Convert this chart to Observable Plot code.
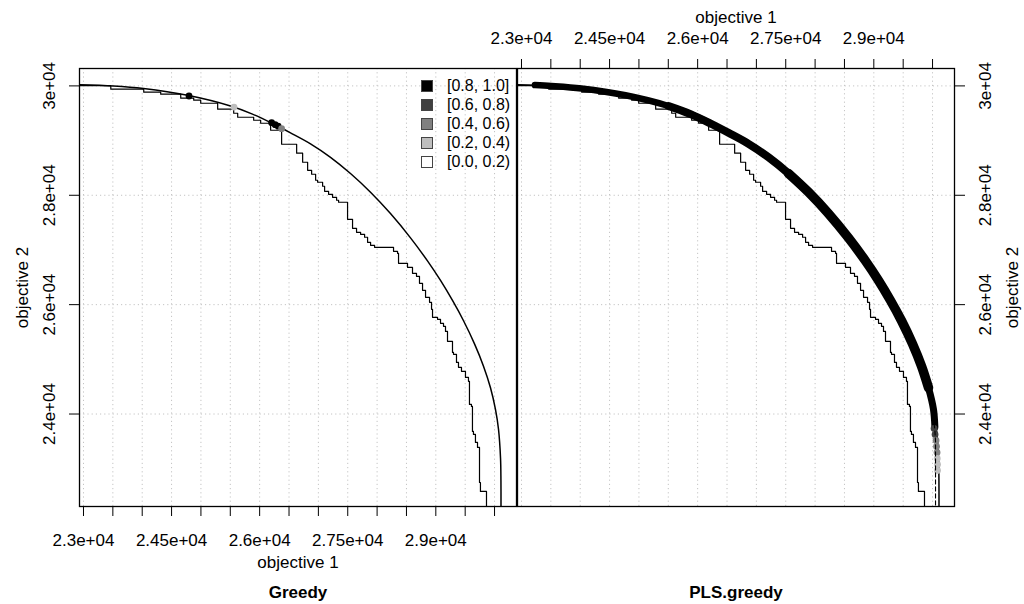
<!DOCTYPE html>
<html><head><meta charset="utf-8">
<script src="https://cdn.jsdelivr.net/npm/d3@7"></script>
<script src="https://cdn.jsdelivr.net/npm/@observablehq/plot@0.6"></script>
<style>
html,body{margin:0;padding:0;background:#fff;}
#wrap{position:relative;width:1024px;height:604px;overflow:hidden;font-family:"Liberation Sans",Arial,Helvetica,sans-serif;}
#wrap svg{position:absolute;top:0;}
.legend{position:absolute;left:421px;top:76px;font-size:16px;color:#000;}
.legend .row{display:flex;align-items:center;height:19px;}
.legend .sw{width:10px;height:10px;border:1px solid #444;box-sizing:content-box;margin-right:14px;}
</style></head><body><div id="wrap"></div>
<script>
// ---- axes / ticks ----
const xTicks = [23000,23500,24000,24500,25000,25500,26000,26500,27000,27500,28000,28500,29000,29500,30000];
const xLabelTicks = [23000,24500,26000,27500,29000];
const xTickLabels = ["2.3e+04","2.45e+04","2.6e+04","2.75e+04","2.9e+04"];
const yTicks = [24000,26000,28000,30000];
const yTickLabels = ["2.4e+04","2.6e+04","2.8e+04","3e+04"];
const xDomain = [22932, 30374];
const yDomain = [22309, 30318];

// ---- legend levels ----
const levels = ["[0.8, 1.0]","[0.6, 0.8)","[0.4, 0.6)","[0.2, 0.4)","[0.0, 0.2)"];
const levelColors = ["#000000","#404040","#808080","#bebebe","#ffffff"];

// ---- grand-best attainment surface ----
const bestX = [22932,23511,24022,24771,25504,25878,26236,26525,26866,27207,27547,27888,28228,28569,28858,29080,29284,29472,29659,29812,29931,30016,30068,30102,30109,30110];
const bestY = [30020,29998,29952,29828,29632,29484,29303,29142,28941,28694,28398,28056,27665,27221,26800,26442,26076,25705,25282,24875,24481,24085,23717,23194,22785,22309];

// ---- grand-worst attainment surface (corner points) ----
const worstX = [22932,23465,24026,24315,24656,24877,24996,25285,25558,25626,25898,26017,26187,26374,26630,26732,26817,26885,26953,26987,27072,27106,27174,27242,27310,27344,27497,27582,27650,27719,27787,27838,27889,27957,28280,28348,28365,28518,28603,28671,28722,28774,28825,28893,28927,28944,29029,29080,29131,29165,29199,29284,29301,29352,29386,29437,29505,29556,29573,29607,29624,29641,29675,29710,29744,29760,29863,29863];
const worstY = [30022,30004,29940,29885,29848,29775,29738,29683,29574,29500,29427,29372,29317,29189,28933,28769,28604,28457,28384,28275,28238,28165,28073,28018,27963,27909,27872,27561,27396,27323,27286,27232,27140,27085,27049,26975,26939,26756,26683,26573,26518,26390,26262,26134,26042,25914,25768,25731,25658,25603,25511,25329,25127,25091,24944,24853,24780,24670,24597,24176,24139,23682,23627,23480,23389,22748,22584,22309];

// ---- Greedy better: difference points ----
const greedyDiffX = [24797,25563,26204,26264,26315,26374];
const greedyDiffY = [29815,29612,29327,29290,29263,29217];
const greedyDiffLevel = ["[0.8, 1.0]","[0.2, 0.4)","[0.8, 1.0]","[0.8, 1.0]","[0.8, 1.0]","[0.4, 0.6)"];

// ---- PLS.greedy better: difference band (level [0.8, 1.0]) ----
const plsBandAX = [23228,23511,24022,24771,25504,25878,26236];
const plsBandAY = [30015,29998,29952,29828,29632,29484,29303];
const plsBandBX = [25504,25878,26236,26525,26866,27207,27547,27888];
const plsBandBY = [29632,29484,29303,29142,28941,28694,28398,28056];
const plsBandCX = [27547,27888,28228,28569,28858,29080,29284,29472,29659,29812,29931];
const plsBandCY = [28398,28056,27665,27221,26800,26442,26076,25705,25282,24875,24481];
const plsBandDX = [29812,29931,30016,30040];
const plsBandDY = [24875,24481,24085,23760];
// lower-probability tail
const plsTailX = [30026,30043,30060,30068,30077,30080,30085,30085];
const plsTailY = [23737,23627,23517,23407,23298,23188,23078,22968];
const plsTailLevel = ["[0.6, 0.8)","[0.6, 0.8)","[0.4, 0.6)","[0.4, 0.6)","[0.4, 0.6)","[0.2, 0.4)","[0.2, 0.4)","[0.2, 0.4)"];
// median surface (dashed)
const plsMedX = [29990,30040,30051,30051];
const plsMedY = [24200,23700,23500,22309];

// ---- helpers ----
const pts = (X, Y, L) => X.map((x, i) => ({x, y: Y[i], level: L ? L[i] : null}));
const xFmt = d => { const i = xLabelTicks.indexOf(d); return i >= 0 ? xTickLabels[i] : ""; };
const yFmt = d => { const i = yTicks.indexOf(d); return i >= 0 ? yTickLabels[i] : ""; };
const FONT = "'Liberation Sans', Arial, Helvetica, sans-serif";
const gridStyle = {stroke: "#c4c4c4", strokeOpacity: 1, strokeDasharray: "1.2,3"};
const common = {
  height: 604,
  x: {domain: xDomain},
  y: {domain: yDomain},
  color: {domain: levels, range: levelColors},
  style: {fontFamily: FONT, fontSize: "17px", background: "transparent", color: "black", overflow: "visible"}
};
const bandStyle = {x: "x", y: "y", curve: "catmull-rom", stroke: levelColors[0], strokeLinecap: "round", strokeLinejoin: "round", clip: true};

const best = pts(bestX, bestY);
const worst = pts(worstX, worstY);

// ---- left panel: Greedy ----
const left = Plot.plot({
  ...common,
  width: 517,
  marginLeft: 79, marginRight: 1, marginTop: 68, marginBottom: 98,
  marks: [
    Plot.gridX({ticks: xTicks, ...gridStyle}),
    Plot.gridY({ticks: yTicks, ...gridStyle}),
    Plot.line(worst, {x: "x", y: "y", curve: "step-before", stroke: "black", strokeWidth: 1.2, clip: true}),
    Plot.line(best, {x: "x", y: "y", curve: "catmull-rom", stroke: "black", strokeWidth: 1.5, clip: true}),
    Plot.dot(pts(greedyDiffX, greedyDiffY, greedyDiffLevel), {x: "x", y: "y", fill: "level", r: 3.4, clip: true}),
    Plot.frame({stroke: "black", strokeWidth: 1.3}),
    Plot.axisX({ticks: xTicks, anchor: "bottom", tickSize: 10, tickPadding: 17, tickFormat: xFmt, label: null}),
    Plot.axisY({ticks: yTicks, anchor: "left", tickSize: 10, tickPadding: 15, tickRotate: -90, tickFormat: yFmt, label: null}),
    Plot.text(["objective 1"], {text: d => d, frameAnchor: "bottom", dy: 49, lineAnchor: "top"}),
    Plot.text(["Greedy"], {text: d => d, frameAnchor: "bottom", dy: 79, lineAnchor: "top", fontWeight: "bold"}),
    Plot.text(["objective 2"], {text: d => d, frameAnchor: "left", dx: -52, rotate: -90, lineAnchor: "bottom", textAnchor: "middle"})
  ]
});
left.style.left = "0px";

// ---- right panel: PLS.greedy ----
const right = Plot.plot({
  ...common,
  width: 508,
  marginLeft: 1, marginRight: 70, marginTop: 68, marginBottom: 98,
  marks: [
    Plot.gridX({ticks: xTicks, ...gridStyle}),
    Plot.gridY({ticks: yTicks, ...gridStyle}),
    Plot.line(worst, {x: "x", y: "y", curve: "step-before", stroke: "black", strokeWidth: 1.2, clip: true}),
    Plot.line(best, {x: "x", y: "y", curve: "catmull-rom", stroke: "black", strokeWidth: 1.5, clip: true}),
    Plot.line(pts(plsBandAX, plsBandAY), {...bandStyle, strokeWidth: 6.5}),
    Plot.line(pts(plsBandBX, plsBandBY), {...bandStyle, strokeWidth: 8}),
    Plot.line(pts(plsBandCX, plsBandCY), {...bandStyle, strokeWidth: 9.5}),
    Plot.line(pts(plsBandDX, plsBandDY), {...bandStyle, strokeWidth: 7}),
    Plot.dot(pts(plsTailX, plsTailY, plsTailLevel), {x: "x", y: "y", fill: "level", r: 3.4, clip: true}),
    Plot.line(pts(plsMedX, plsMedY), {x: "x", y: "y", stroke: "black", strokeWidth: 1.1, strokeDasharray: "4,3", clip: true}),
    Plot.frame({stroke: "black", strokeWidth: 1.3}),
    Plot.axisX({ticks: xTicks, anchor: "top", tickSize: 10, tickPadding: 15, tickFormat: xFmt, label: null}),
    Plot.axisY({ticks: yTicks, anchor: "right", tickSize: 10, tickPadding: 26, tickRotate: -90, tickFormat: yFmt, label: null}),
    Plot.text(["objective 1"], {text: d => d, frameAnchor: "top", dy: -58, lineAnchor: "top"}),
    Plot.text(["PLS.greedy"], {text: d => d, frameAnchor: "bottom", dy: 79, lineAnchor: "top", fontWeight: "bold"}),
    Plot.text(["objective 2"], {text: d => d, frameAnchor: "right", dx: 63, rotate: -90, lineAnchor: "bottom", textAnchor: "middle"})
  ]
});
right.style.left = "516px";

const wrap = document.getElementById("wrap");
wrap.appendChild(left);
wrap.appendChild(right);

// ---- legend (inside left panel) ----
const legend = document.createElement("div");
legend.className = "legend";
levels.forEach((lv, i) => {
  const row = document.createElement("div");
  row.className = "row";
  const sw = document.createElement("div");
  sw.className = "sw";
  sw.style.background = levelColors[i];
  const tx = document.createElement("span");
  tx.textContent = lv;
  row.appendChild(sw);
  row.appendChild(tx);
  legend.appendChild(row);
});
wrap.appendChild(legend);
</script></body></html>
